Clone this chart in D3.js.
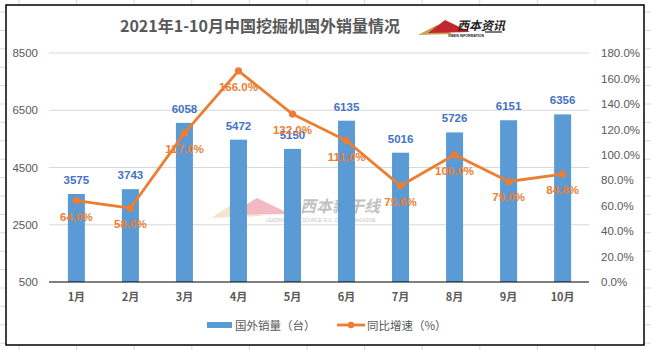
<!DOCTYPE html>
<html>
<head>
<meta charset="utf-8">
<script src="https://d3js.org/d3.v7.min.js"></script>
<style>
  body { margin: 0; background: #fff; }
  svg { display: block; }
  text { font-family: "Liberation Sans", "Noto Sans CJK SC", sans-serif; }
  .cjk { font-family: "Noto Sans CJK SC", sans-serif; }
</style>
</head>
<body>
<div id="chart"></div>
<script>
  // data
  const months = ["1月", "2月", "3月", "4月", "5月", "6月", "7月", "8月", "9月", "10月"];
  const sales = [3575, 3743, 6058, 5472, 5150, 6135, 5016, 5726, 6151, 6356];
  const growth = [64.0, 58.0, 117.0, 166.0, 132.0, 111.0, 75.6, 100.0, 79.0, 84.8];
  const leftTicks = [500, 2500, 4500, 6500, 8500];
  const rightTicks = [0, 20, 40, 60, 80, 100, 120, 140, 160, 180];

  const W = 651, H = 350;
  const blue = "#5b9bd5", orange = "#ed7d31", grey = "#595959";
  const svg = d3.select("#chart").append("svg").attr("width", W).attr("height", H);

  // spreadsheet cells behind the chart
  const cellX = d3.range(19, W, 57.6);
  const cellY = d3.range(12, H, 18.4);
  svg.append("g").selectAll("line.v").data(cellX).join("line")
    .attr("x1", d => d).attr("x2", d => d).attr("y1", 0).attr("y2", H)
    .attr("stroke", "#d9d9d9");
  svg.append("g").selectAll("line.h").data(cellY).join("line")
    .attr("x1", 0).attr("x2", W).attr("y1", d => d).attr("y2", d => d)
    .attr("stroke", "#d9d9d9");

  // chart frame
  svg.append("rect").attr("x", 6).attr("y", 5).attr("width", 638).attr("height", 340)
    .attr("fill", "#fff").attr("stroke", "#000").attr("stroke-width", 1.5);

  const x = d3.scaleBand().domain(months).range([49.5, 589.5]).paddingInner(0.685).paddingOuter(0.34);
  const yL = d3.scaleLinear().domain([500, 8500]).range([282, 53]);
  const yR = d3.scaleLinear().domain([0, 180]).range([282, 53]);

  // gridlines
  svg.append("g").selectAll("line").data(leftTicks.slice(1)).join("line")
    .attr("x1", 49).attr("x2", 589).attr("y1", d => yL(d)).attr("y2", d => yL(d))
    .attr("stroke", "#d9d9d9").attr("stroke-width", 1);

  // left axis
  const axL = svg.append("g").attr("transform", "translate(49,0)")
    .call(d3.axisLeft(yL).tickValues(leftTicks).tickSize(0).tickPadding(11).tickFormat(d3.format("d")));
  axL.select(".domain").remove();
  axL.selectAll("text").attr("fill", grey).attr("font-size", 11.5).style("font-family", "Liberation Sans, sans-serif");

  // right axis
  const axR = svg.append("g").attr("transform", "translate(589,0)")
    .call(d3.axisRight(yR).tickValues(rightTicks).tickSize(0).tickPadding(12).tickFormat(d => d.toFixed(1) + "%"));
  axR.select(".domain").remove();
  axR.selectAll("text").attr("fill", grey).attr("font-size", 11.5).style("font-family", "Liberation Sans, sans-serif");

  // watermark
  const wm = svg.append("g").attr("opacity", 0.45);
  wm.append("path").attr("d", "M211,218 L236,202 L252,210 L262,216 Z").attr("fill", "#e6c98a");
  wm.append("path").attr("d", "M229,215 L257,198 L290,214 Z").attr("fill", "#e8667a");
  wm.append("text").attr("class", "cjk").attr("x", 300).attr("y", 212)
    .attr("font-size", 16).attr("font-style", "italic").attr("font-weight", "bold").attr("fill", "#777").text("西本新干线");
  wm.append("text").attr("x", 266).attr("y", 222).attr("font-size", 4.5).attr("fill", "#777")
    .text("LEADING STEEL SOURCE, E.G. ONLINE MAGAZINE");

  // bars
  svg.append("g").selectAll("rect").data(sales).join("rect")
    .attr("x", (d, i) => x(months[i])).attr("width", x.bandwidth())
    .attr("y", d => yL(d)).attr("height", d => yL(500) - yL(d))
    .attr("fill", blue);

  // baseline
  svg.append("line").attr("x1", 49).attr("x2", 589).attr("y1", yL(500)).attr("y2", yL(500))
    .attr("stroke", "#000").attr("stroke-width", 1.2);

  // x labels
  svg.append("g").selectAll("text").data(months).join("text")
    .attr("class", "cjk")
    .attr("x", d => x(d) + x.bandwidth() / 2).attr("y", 301)
    .attr("text-anchor", "middle").attr("font-size", 11).attr("font-weight", "bold")
    .attr("fill", grey).text(d => d);

  // line
  const cx = i => x(months[i]) + x.bandwidth() / 2;
  svg.append("path").datum(growth)
    .attr("d", d3.line().x((d, i) => cx(i)).y(d => yR(d)))
    .attr("fill", "none").attr("stroke", orange).attr("stroke-width", 2.8).attr("stroke-linejoin", "round");
  svg.append("g").selectAll("circle").data(growth).join("circle")
    .attr("cx", (d, i) => cx(i)).attr("cy", d => yR(d)).attr("r", 3.6).attr("fill", orange);

  // bar value labels
  svg.append("g").selectAll("text").data(sales).join("text")
    .attr("x", (d, i) => cx(i)).attr("y", d => yL(d) - 10)
    .attr("text-anchor", "middle").attr("font-size", 11.5).attr("font-weight", "bold")
    .attr("fill", "#4472c4").text(d => d);

  // growth labels
  svg.append("g").selectAll("text").data(growth).join("text")
    .attr("x", (d, i) => cx(i)).attr("y", d => yR(d) + 20)
    .attr("text-anchor", "middle").attr("font-size", 11.5).attr("font-weight", "bold")
    .attr("fill", orange).text(d => d.toFixed(1) + "%");

  // title
  svg.append("text").attr("class", "cjk").attr("x", 260).attr("y", 32)
    .attr("text-anchor", "middle").attr("font-size", 16).attr("font-weight", "bold")
    .attr("fill", grey).text("2021年1-10月中国挖掘机国外销量情况");

  // logo
  const logo = svg.append("g");
  logo.append("path").attr("d", "M418,35 L437,25 L446,30 L452,34 Z").attr("fill", "#c8a050");
  logo.append("path").attr("d", "M428,33 L445,20 L470,32 Z").attr("fill", "#c0282d");
  logo.append("text").attr("class", "cjk").attr("x", 457).attr("y", 30)
    .attr("font-size", 12).attr("font-weight", "bold").attr("font-style", "italic").attr("fill", "#222").text("西本资讯");
  logo.append("line").attr("x1", 485).attr("x2", 502).attr("y1", 32).attr("y2", 32).attr("stroke", "#222").attr("stroke-width", 1.2);
  logo.append("text").attr("x", 448).attr("y", 36.5).attr("font-size", 3.5).attr("font-weight", "bold").attr("fill", "#222")
    .text("XIBEN INFORMATION");

  // legend
  const lg = svg.append("g");
  lg.append("rect").attr("x", 207).attr("y", 322).attr("width", 25).attr("height", 6).attr("fill", blue);
  lg.append("text").attr("class", "cjk").attr("x", 235).attr("y", 329.5).attr("font-size", 11.5)
    .attr("fill", grey).text("国外销量（台）");
  lg.append("line").attr("x1", 337).attr("x2", 365).attr("y1", 325).attr("y2", 325)
    .attr("stroke", orange).attr("stroke-width", 2.8);
  lg.append("circle").attr("cx", 351).attr("cy", 325).attr("r", 3.2).attr("fill", orange);
  lg.append("text").attr("class", "cjk").attr("x", 367).attr("y", 329.5).attr("font-size", 11.5)
    .attr("fill", grey).text("同比增速（%）");
</script>
</body>
</html>
